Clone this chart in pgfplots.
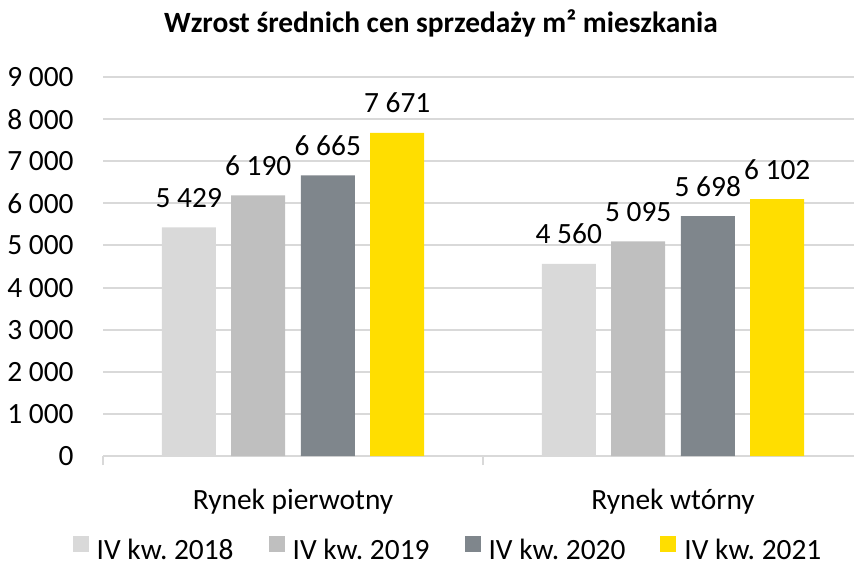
\documentclass[border=0pt]{standalone}
\usepackage{fontspec}
\setmainfont{Carlito}
\usepackage{pgfplots}
\pgfplotsset{compat=1.18}
\definecolor{c18}{HTML}{D9D9D9}
\definecolor{c19}{HTML}{BFBFBF}
\definecolor{c20}{HTML}{7F868C}
\definecolor{c21}{HTML}{FFDE00}
\definecolor{gridc}{HTML}{D9D9D9}
\frenchspacing
\begin{document}
\frenchspacing
\fontsize{14.7pt}{17pt}\selectfont
\begin{tikzpicture}[font=\fontsize{14.7pt}{17pt}\selectfont]
\useasboundingbox (0,0) rectangle (427pt,281pt);
\node[anchor=base, font=\fontsize{14.7pt}{17pt}\selectfont\bfseries] at (220.5pt,264.5pt) {Wzrost średnich cen sprzedaży m² mieszkania};
\begin{axis}[
  at={(51.5pt,53pt)}, anchor=south west,
  scale only axis, width=375.5pt, height=189.5pt,
  ybar, bar width=27pt,
  xmin=-0.5, xmax=1.4763, ymin=0, ymax=9000,
  axis x line*=bottom, axis y line*=left,
  x axis line style={draw=gridc, line width=1pt, -},
  y axis line style={draw=none},
  ymajorgrids, grid style={draw=gridc, line width=1pt},
  ytick={0,1000,...,9000},
  yticklabels={0,1~000,2~000,3~000,4~000,5~000,6~000,7~000,8~000,9~000},
  ytick style={draw=none},
  yticklabel style={anchor=east, inner sep=0pt, xshift=-14.5pt},
  xtick={0,1},
  xticklabels={Rynek pierwotny, Rynek wtórny},
  xtick style={draw=none},
  xticklabel style={anchor=base, inner sep=0pt, yshift=-22.5pt},
  extra x ticks={-0.5,0.5},
  extra x tick labels={},
  extra x tick style={grid=none, tick align=outside, major tick length=4.5pt,
     xtick style={draw=gridc, line width=1pt}},
  point meta=explicit symbolic,
  nodes near coords={\pgfplotspointmeta},
  nodes near coords style={anchor=base, inner sep=0pt, yshift=10pt, text=black},
  legend columns=4,
  legend style={at={(axis description cs:-0.0403,-0.2480)}, anchor=west,
     draw=none, fill=none, inner sep=0pt, outer sep=0pt,
     nodes={inner sep=0pt}, cells={anchor=west},
     /tikz/every odd column/.append style={column sep=4pt},
     /tikz/every even column/.append style={column sep=17.5pt}},
  legend image code/.code={\fill[#1] (0pt,0pt) rectangle (8pt,8pt);},
]
\addplot[fill=c18, draw=none, bar shift=-52.1pt] coordinates {(0,5429) [5~429] (1,4560) [4~560]};
\addplot[fill=c19, draw=none, bar shift=-17.4pt] coordinates {(0,6190) [6~190] (1,5095) [5~095]};
\addplot[fill=c20, draw=none, bar shift=17.4pt] coordinates {(0,6665) [6~665] (1,5698) [5~698]};
\addplot[fill=c21, draw=none, bar shift=52.1pt] coordinates {(0,7671) [7~671] (1,6102) [6~102]};
\legend{IV kw. 2018, IV kw. 2019, IV kw. 2020, IV kw. 2021}
\end{axis}
\end{tikzpicture}
\end{document}
